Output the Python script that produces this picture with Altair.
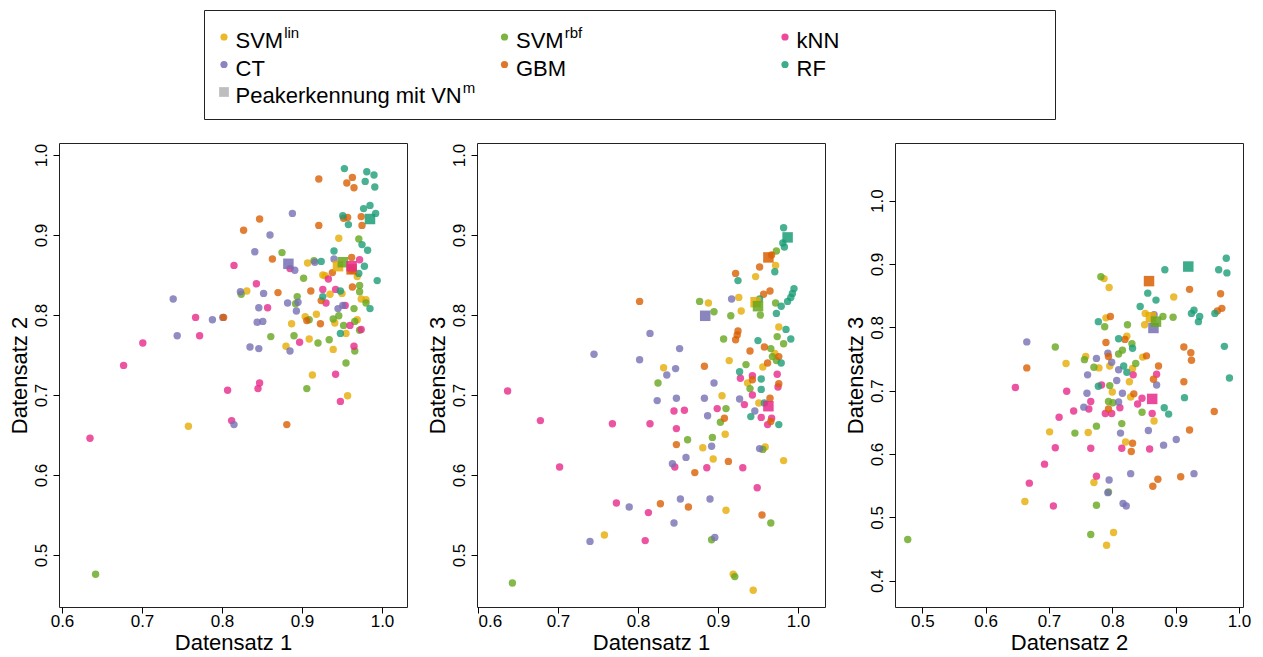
import altair as alt
import pandas as pd

FONT = "Liberation Sans"
CLASSES = ["SVMlin", "SVMrbf", "kNN", "CT", "GBM", "RF"]
COLORS = ["#E6AB02", "#66A61E", "#E7298A", "#7570B3", "#D95F02", "#1B9E77"]

# ---------------- Panel 1: Datensatz 1 (x) vs Datensatz 2 (y) ----------------
P1_SVMLIN = [(0.946,0.896),(0.907,0.865),(0.926,0.850),(0.929,0.849),(0.831,0.830),(0.935,0.826),
             (0.950,0.827),(0.974,0.820),(0.980,0.819),(0.904,0.798),(0.918,0.801),(0.887,0.789),
             (0.941,0.790),(0.969,0.794),(0.955,0.777),(0.909,0.770),(0.880,0.761),(0.939,0.757),
             (0.913,0.725),(0.969,0.848),(0.758,0.661),(0.957,0.699)]
P1_SVMRBF = [(0.971,0.895),(0.875,0.878),(0.915,0.868),(0.902,0.846),(0.972,0.837),(0.972,0.829),
             (0.894,0.823),(0.892,0.814),(0.824,0.826),(0.980,0.815),(0.965,0.808),(0.939,0.795),
             (0.946,0.799),(0.909,0.794),(0.952,0.787),(0.966,0.792),(0.972,0.781),(0.861,0.773),
             (0.890,0.774),(0.920,0.765),(0.934,0.769),(0.966,0.755),(0.955,0.740),(0.906,0.708),
             (0.642,0.476)]
P1_KNN = [(0.815,0.862),(0.885,0.858),(0.972,0.869),(0.933,0.845),(0.843,0.839),(0.926,0.832),
          (0.942,0.832),(0.930,0.815),(0.857,0.809),(0.767,0.797),(0.772,0.774),(0.954,0.812),
          (0.960,0.787),(0.974,0.782),(0.701,0.765),(0.897,0.766),(0.965,0.761),(0.677,0.737),
          (0.942,0.726),(0.807,0.706),(0.845,0.708),(0.847,0.715),(0.812,0.668),(0.948,0.692),
          (0.635,0.646)]
P1_CT = [(0.888,0.927),(0.860,0.900),(0.841,0.879),(0.940,0.870),(0.916,0.866),(0.891,0.856),
         (0.739,0.820),(0.823,0.829),(0.852,0.827),(0.846,0.809),(0.882,0.815),(0.895,0.816),
         (0.893,0.805),(0.945,0.808),(0.951,0.812),(0.788,0.794),(0.801,0.797),(0.844,0.791),
         (0.851,0.792),(0.744,0.774),(0.835,0.760),(0.846,0.758),(0.885,0.755),(0.815,0.663)]
P1_GBM = [(0.921,0.970),(0.963,0.972),(0.956,0.965),(0.965,0.959),(0.847,0.920),(0.827,0.906),
          (0.921,0.912),(0.952,0.921),(0.957,0.922),(0.974,0.923),(0.975,0.912),(0.863,0.870),
          (0.962,0.872),(0.938,0.853),(0.963,0.835),(0.911,0.830),(0.870,0.828),(0.924,0.818),
          (0.802,0.797),(0.923,0.789),(0.906,0.793),(0.962,0.856),(0.881,0.663)]
P1_RF = [(0.953,0.983),(0.981,0.979),(0.990,0.975),(0.979,0.967),(0.991,0.960),(0.977,0.933),
         (0.985,0.937),(0.992,0.927),(0.951,0.924),(0.958,0.913),(0.975,0.888),(0.982,0.881),
         (0.940,0.880),(0.924,0.867),(0.978,0.861),(0.971,0.852),(0.994,0.843),(0.948,0.830),
         (0.926,0.823),(0.985,0.808),(0.948,0.777)]
# Peakerkennung mit VN^m (one square per classifier)
P1_VN = {"CT": (0.883,0.864), "GBM": (0.962,0.857), "SVMlin": (0.945,0.861),
         "SVMrbf": (0.951,0.866), "kNN": (0.962,0.861), "RF": (0.985,0.920)}

# ---------------- Panel 2: Datensatz 1 (x) vs Datensatz 3 (y) ----------------
P2_SVMLIN = [(0.972,0.862),(0.947,0.848),(0.926,0.822),(0.888,0.815),(0.929,0.805),(0.976,0.785),
             (0.914,0.743),(0.956,0.735),(0.832,0.734),(0.971,0.752),(0.937,0.715),(0.905,0.699),
             (0.951,0.690),(0.909,0.651),(0.881,0.634),(0.894,0.620),(0.959,0.635),(0.982,0.618),
             (0.910,0.556),(0.758,0.525),(0.919,0.476),(0.944,0.456)]
P2_SVMRBF = [(0.973,0.880),(0.877,0.817),(0.895,0.804),(0.916,0.799),(0.972,0.815),(0.953,0.800),
             (0.907,0.770),(0.974,0.773),(0.982,0.764),(0.966,0.758),(0.968,0.748),(0.973,0.743),
             (0.935,0.738),(0.825,0.715),(0.940,0.708),(0.910,0.683),(0.903,0.666),(0.862,0.644),
             (0.893,0.647),(0.956,0.632),(0.966,0.540),(0.892,0.519),(0.921,0.473),(0.643,0.465)]
P2_KNN = [(0.637,0.705),(0.678,0.668),(0.702,0.610),(0.768,0.664),(0.815,0.664),(0.773,0.565),
          (0.813,0.553),(0.809,0.518),(0.845,0.680),(0.858,0.681),(0.848,0.658),(0.846,0.610),
          (0.886,0.609),(0.899,0.683),(0.931,0.609),(0.949,0.584),(0.933,0.688),(0.943,0.724),
          (0.943,0.700),(0.954,0.672),(0.967,0.671),(0.962,0.663),(0.974,0.726),(0.975,0.710),
          (0.928,0.721)]
P2_CT = [(0.917,0.820),(0.815,0.777),(0.852,0.758),(0.745,0.751),(0.802,0.744),(0.847,0.733),
         (0.836,0.725),(0.895,0.715),(0.824,0.693),(0.848,0.696),(0.883,0.696),(0.927,0.695),
         (0.887,0.674),(0.946,0.680),(0.892,0.636),(0.952,0.633),(0.860,0.622),(0.843,0.614),
         (0.853,0.570),(0.890,0.570),(0.789,0.560),(0.845,0.540),(0.740,0.517),(0.896,0.522)]
P2_GBM = [(0.967,0.875),(0.952,0.860),(0.922,0.852),(0.965,0.830),(0.957,0.826),(0.802,0.817),
          (0.925,0.780),(0.924,0.775),(0.922,0.769),(0.940,0.755),(0.958,0.760),(0.883,0.736),
          (0.962,0.740),(0.976,0.748),(0.943,0.719),(0.976,0.714),(0.965,0.696),(0.966,0.667),
          (0.908,0.671),(0.848,0.638),(0.913,0.617),(0.871,0.603),(0.828,0.564),(0.863,0.560),
          (0.955,0.550)]
P2_RF = [(0.982,0.909),(0.981,0.890),(0.983,0.885),(0.971,0.854),(0.925,0.843),(0.995,0.833),
         (0.993,0.827),(0.991,0.822),(0.987,0.817),(0.979,0.811),(0.952,0.820),(0.973,0.802),
         (0.985,0.782),(0.991,0.770),(0.950,0.768),(0.979,0.740),(0.927,0.729),(0.954,0.720),
         (0.954,0.707),(0.941,0.673),(0.976,0.663),(0.958,0.690)]
P2_VN = {"CT": (0.884,0.799), "GBM": (0.963,0.872), "SVMlin": (0.947,0.816),
         "SVMrbf": (0.950,0.811), "kNN": (0.963,0.686), "RF": (0.987,0.897)}

# ---------------- Panel 3: Datensatz 2 (x) vs Datensatz 3 (y) ----------------
P3_SVMLIN = [(0.787,0.877),(0.795,0.863),(0.897,0.848),(0.852,0.822),(0.790,0.815),(0.851,0.804),
             (0.823,0.786),(0.758,0.754),(0.727,0.743),(0.779,0.736),(0.796,0.739),(0.848,0.753),
             (0.832,0.735),(0.827,0.714),(0.800,0.698),(0.829,0.690),(0.866,0.652),(0.701,0.635),
             (0.762,0.634),(0.821,0.619),(0.771,0.555),(0.662,0.525),(0.802,0.476),(0.791,0.456)]
P3_SVMRBF = [(0.782,0.880),(0.880,0.817),(0.896,0.816),(0.824,0.804),(0.788,0.801),(0.710,0.769),
             (0.831,0.774),(0.816,0.764),(0.810,0.758),(0.756,0.749),(0.771,0.737),(0.837,0.743),
             (0.796,0.708),(0.794,0.683),(0.801,0.681),(0.847,0.666),(0.815,0.648),(0.775,0.644),
             (0.741,0.633),(0.794,0.540),(0.775,0.519),(0.766,0.473),(0.477,0.465)]
P3_KNN = [(0.833,0.725),(0.870,0.726),(0.647,0.705),(0.728,0.699),(0.766,0.683),(0.783,0.709),
          (0.739,0.668),(0.763,0.671),(0.716,0.658),(0.789,0.664),(0.799,0.664),(0.812,0.673),
          (0.840,0.679),(0.847,0.688),(0.863,0.664),(0.710,0.610),(0.766,0.609),(0.815,0.609),
          (0.859,0.608),(0.693,0.584),(0.669,0.554),(0.775,0.565),(0.707,0.518)]
P3_CT = [(0.665,0.777),(0.866,0.820),(0.793,0.759),(0.775,0.751),(0.799,0.745),(0.810,0.733),
         (0.761,0.725),(0.807,0.716),(0.870,0.709),(0.760,0.696),(0.816,0.696),(0.755,0.674),
         (0.810,0.682),(0.813,0.633),(0.857,0.637),(0.881,0.614),(0.901,0.623),(0.829,0.569),
         (0.929,0.569),(0.795,0.559),(0.793,0.539),(0.817,0.522),(0.822,0.518)]
P3_GBM = [(0.922,0.860),(0.971,0.853),(0.973,0.830),(0.966,0.826),(0.797,0.817),(0.790,0.776),
          (0.820,0.781),(0.854,0.755),(0.794,0.754),(0.913,0.769),(0.924,0.760),(0.925,0.748),
          (0.873,0.739),(0.665,0.736),(0.865,0.718),(0.913,0.714),(0.834,0.695),(0.794,0.671),
          (0.961,0.667),(0.922,0.638),(0.832,0.617),(0.830,0.604),(0.872,0.560),(0.864,0.549),
          (0.908,0.564)]
P3_RF = [(0.980,0.909),(0.968,0.891),(0.981,0.886),(0.883,0.891),(0.856,0.854),(0.869,0.843),
         (0.844,0.833),(0.929,0.827),(0.925,0.822),(0.938,0.817),(0.936,0.809),(0.962,0.822),
         (0.778,0.809),(0.810,0.782),(0.832,0.767),(0.977,0.770),(0.818,0.739),(0.823,0.729),
         (0.985,0.720),(0.778,0.707),(0.914,0.689),(0.882,0.673),(0.889,0.663)]
P3_VN = {"CT": (0.865,0.799), "GBM": (0.858,0.873), "SVMlin": (0.861,0.816),
         "SVMrbf": (0.869,0.809), "kNN": (0.863,0.687), "RF": (0.920,0.896)}

# ---------------- Legend entries ----------------
LEGEND_MAIN = ["SVM", "SVM", "kNN", "CT", "GBM", "RF", "Peakerkennung mit VN"]
LEGEND_SUP = ["lin", "rbf", "", "", "", "", "m"]
LEGEND_KEY = CLASSES + ["VN"]
LEGEND_COL = [0, 1, 2, 0, 1, 2, 0]
LEGEND_ROW = [0, 0, 0, 1, 1, 1, 2]

# Arial-compatible advance widths (per 1000 em) for placing superscripts
ARIAL_W = {"S": 667, "V": 667, "M": 833, "k": 500, "N": 722, "C": 722, "T": 611, "G": 778,
           "B": 667, "R": 722, "F": 611, "P": 667, "e": 556, "a": 556, "r": 333, "n": 556,
           "u": 556, "g": 556, " ": 278, "m": 833, "i": 222, "t": 278}


def text_width(s, size):
    return sum(ARIAL_W.get(c, 556) for c in s) / 1000.0 * size


TITLE_FS = 22
LABEL_FS = 17
LEG_FS = 22
SUP_FS = 15
PANEL_W = 348
PANEL_H = 464
LEG_W = 851
LEG_H = 109
LEG_OFFSET = 144
COL_PX = 280.5
ROW_PX = 27.5
TEXT_GAP = 11.5


def points_frame(groups):
    rows = []
    for cls, pts in zip(CLASSES, groups):
        for x, y in pts:
            rows.append({"x": x, "y": y, "cls": cls})
    return pd.DataFrame(rows)


def vn_frame(vn):
    order = ["CT", "GBM", "SVMlin", "SVMrbf", "kNN", "RF"]
    return pd.DataFrame([{"x": vn[c][0], "y": vn[c][1], "cls": c, "o": i} for i, c in enumerate(order)])


color_enc = alt.Color("cls:N", scale=alt.Scale(domain=CLASSES, range=COLORS), legend=None)


def panel(groups, vn, xdom, ydom, xvals, yvals, xtitle, ytitle):
    xenc = alt.X("x:Q", scale=alt.Scale(domain=xdom, nice=False, zero=False),
                 axis=alt.Axis(values=xvals, format=".1f", title=xtitle, orient="bottom",
                               tickSize=6, labelPadding=13, labelBaseline="alphabetic",
                               minExtent=25, maxExtent=25,
                               titlePadding=17, titleBaseline="alphabetic"))
    yenc = alt.Y("y:Q", scale=alt.Scale(domain=ydom, nice=False, zero=False),
                 axis=alt.Axis(values=yvals, format=".1f", title=ytitle, orient="left",
                               tickSize=6, labelPadding=7, labelAngle=-90, labelAlign="center",
                               labelBaseline="alphabetic", minExtent=26, maxExtent=26,
                               titlePadding=7, titleBaseline="alphabetic"))
    circles = alt.Chart(points_frame(groups)).mark_circle(size=55, opacity=0.8).encode(
        x=xenc, y=yenc, color=color_enc)
    squares = alt.Chart(vn_frame(vn)).mark_square(size=110, opacity=0.85).encode(
        x=xenc, y=yenc, color=color_enc, order="o:Q")
    return alt.layer(circles, squares).properties(width=PANEL_W, height=PANEL_H)


p1 = panel([P1_SVMLIN, P1_SVMRBF, P1_KNN, P1_CT, P1_GBM, P1_RF], P1_VN,
           [0.59625, 1.03125], [0.435, 1.015], [0.6, 0.7, 0.8, 0.9, 1.0],
           [0.5, 0.6, 0.7, 0.8, 0.9, 1.0], "Datensatz 1", "Datensatz 2")
p2 = panel([P2_SVMLIN, P2_SVMRBF, P2_KNN, P2_CT, P2_GBM, P2_RF], P2_VN,
           [0.59875, 1.03375], [0.435, 1.015], [0.6, 0.7, 0.8, 0.9, 1.0],
           [0.5, 0.6, 0.7, 0.8, 0.9, 1.0], "Datensatz 1", "Datensatz 3")
p3 = panel([P3_SVMLIN, P3_SVMRBF, P3_KNN, P3_CT, P3_GBM, P3_RF], P3_VN,
           [0.4569, 1.0064], [0.3584, 1.0911], [0.5, 0.6, 0.7, 0.8, 0.9, 1.0],
           [0.4, 0.5, 0.6, 0.7, 0.8, 0.9, 1.0], "Datensatz 2", "Datensatz 3")

# ---------------- Legend chart ----------------
leg_rows = []
for main, sup, key, c, r in zip(LEGEND_MAIN, LEGEND_SUP, LEGEND_KEY, LEGEND_COL, LEGEND_ROW):
    leg_rows.append({
        "main": main, "sup": sup, "key": key, "col": c, "row": r,
        "tx": c + TEXT_GAP / COL_PX,
        "sx": c + (TEXT_GAP + text_width(main, LEG_FS) + 1) / COL_PX,
    })
leg_df = pd.DataFrame(leg_rows)

x0 = -20.0 / COL_PX
lx = alt.Scale(domain=[x0, x0 + LEG_W / COL_PX], nice=False, zero=False)
y0 = -27.0 / ROW_PX
ly = alt.Scale(domain=[y0, y0 + LEG_H / ROW_PX], nice=False, zero=False, reverse=True)

leg_base = alt.Chart(leg_df)
leg_dots = leg_base.transform_filter("datum.key != 'VN'").mark_circle(size=52, opacity=0.85).encode(
    x=alt.X("col:Q", scale=lx, axis=None),
    y=alt.Y("row:Q", scale=ly, axis=None),
    color=alt.Color("key:N", scale=alt.Scale(domain=CLASSES, range=COLORS), legend=None))
leg_sq = leg_base.transform_filter("datum.key == 'VN'").mark_square(size=95, color="#A3A3A3").encode(
    x=alt.X("col:Q", scale=lx, axis=None),
    y=alt.Y("row:Q", scale=ly, axis=None))
leg_text = leg_base.mark_text(align="left", baseline="alphabetic", dy=11, font=FONT,
                              fontSize=LEG_FS, color="#000000").encode(
    x=alt.X("tx:Q", scale=lx, axis=None),
    y=alt.Y("row:Q", scale=ly, axis=None),
    text="main:N")
leg_sup = leg_base.transform_filter("datum.sup != ''").mark_text(
    align="left", baseline="alphabetic", dy=1, font=FONT, fontSize=SUP_FS, color="#000000").encode(
    x=alt.X("sx:Q", scale=lx, axis=None),
    y=alt.Y("row:Q", scale=ly, axis=None),
    text="sup:N")
legend = alt.layer(leg_dots, leg_sq, leg_text, leg_sup).properties(width=LEG_W, height=LEG_H)

# empty spacer that shifts the legend box to the right
spacer = alt.Chart(pd.DataFrame({"v": [0]})).mark_point(opacity=0).encode(
    x=alt.value(0), y=alt.value(0)
).properties(width=LEG_OFFSET, height=LEG_H, view=alt.ViewBackground(strokeOpacity=0, strokeWidth=0))

top_row = alt.hconcat(spacer, legend, spacing=0)

chart = alt.vconcat(
    top_row,
    alt.hconcat(p1, p2, p3, spacing=17),
    spacing=22,
).properties(
    padding={"left": 7, "top": 7, "right": 2, "bottom": 2},
    background="white",
).configure_view(
    stroke="#222222", strokeWidth=1
).configure_axis(
    domain=False, grid=False, ticks=True, tickColor="#000000", tickWidth=1,
    labelFont=FONT, labelFontSize=LABEL_FS, labelColor="#000000",
    titleFont=FONT, titleFontSize=TITLE_FS, titleFontWeight="normal", titleColor="#000000",
    labelOverlap=False,
)

chart.save("out.html", embed_options={"renderer": "svg", "actions": False})
